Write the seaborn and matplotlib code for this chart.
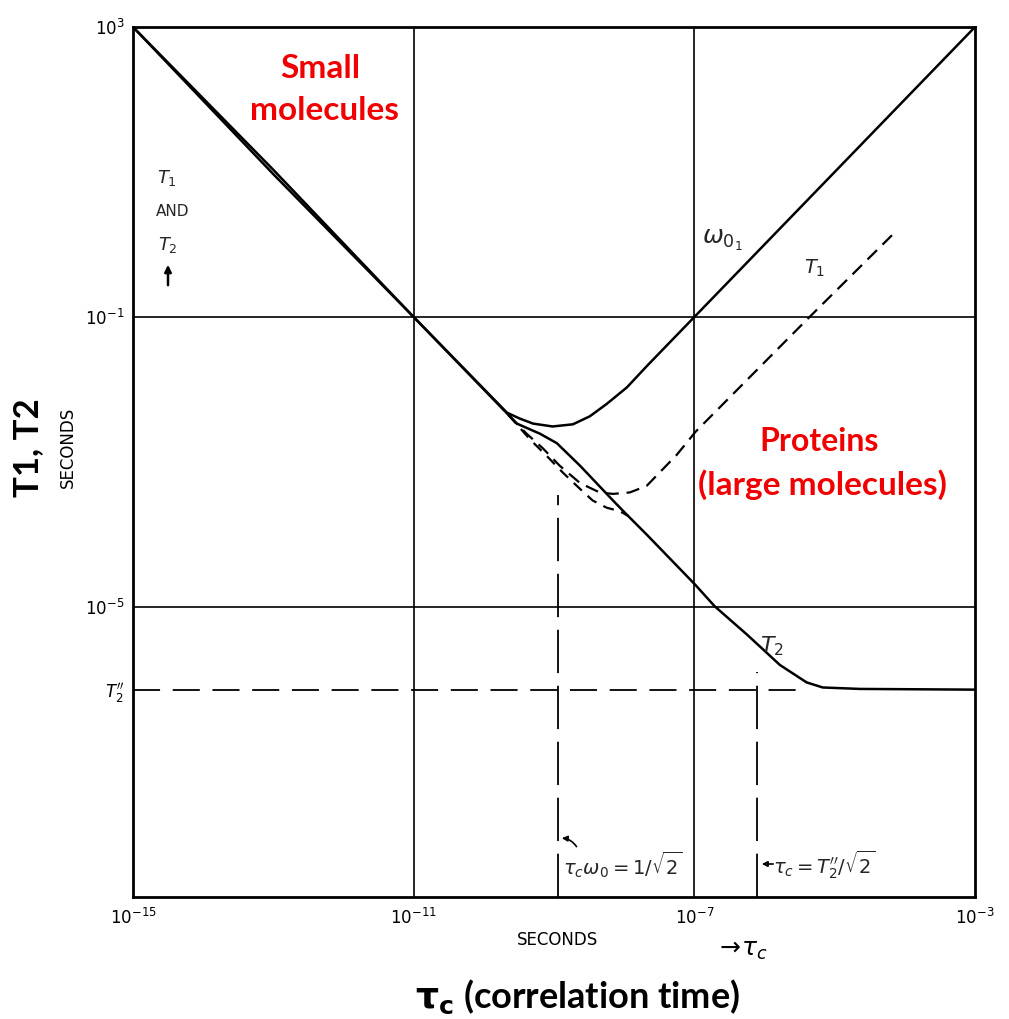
import numpy as np
import pandas as pd
import matplotlib
matplotlib.use("Agg")
import matplotlib.pyplot as plt
import seaborn as sns
from matplotlib.ticker import NullLocator, FixedLocator

# ---------------- data (log10 values) ----------------
# solid T1 curve (omega_01)
t1_solid_logtau = [-15.0, -13.0, -11.0, -9.67, -9.49, -9.30, -9.02, -8.73, -8.49, -8.25, -7.96, -7.68, -7.0, -3.0]
t1_solid_logT = [3.0, 1.03, -1.0, -2.32, -2.40, -2.47, -2.51, -2.48, -2.37, -2.20, -1.97, -1.68, -1.0, 3.0]

# solid T2 curve (omega_01)
t2_solid_logtau = [-15.0, -13.0, -11.0, -9.53, -9.20, -8.96, -8.63, -8.16, -8.02, -7.68, -6.99, -6.71,
                   -6.25, -5.78, -5.40, -5.17, -4.64, -3.0]
t2_solid_logT = [3.0, 0.97, -1.0, -2.47, -2.61, -2.74, -3.05, -3.53, -3.67, -4.00, -4.69, -4.99,
                 -5.38, -5.80, -6.04, -6.11, -6.13, -6.14]

# dashed T1 curve (second frequency)
t1_dash_logtau = [-9.65, -9.39, -9.16, -8.92, -8.63, -8.35, -8.16, -7.92, -7.68, -7.45, -7.25, -6.98, -5.40, -4.15]
t1_dash_logT = [-2.35, -2.61, -2.81, -3.05, -3.29, -3.42, -3.44, -3.42, -3.33, -3.10, -2.90, -2.58, -1.04, 0.16]

# dashed T2 curve (second frequency)
t2_dash_logtau = [-9.65, -9.34, -9.10, -8.87, -8.63, -8.45, -8.25, -8.06, -7.95]
t2_dash_logT = [-2.35, -2.69, -2.92, -3.15, -3.37, -3.53, -3.63, -3.68, -3.74]

# reference lines
t2pp_logT = -6.14                 # T2'' level
t2pp_line_logtau = [-15.0, -5.40]
vline1_logtau = -8.95             # tau_c * omega_0 = 1/sqrt(2)
vline1_logT = [-9.0, -3.46]
vline2_logtau = -6.10             # tau_c = T2''/sqrt(2)
vline2_logT = [-9.0, -5.90]

grid_tau = [1e-11, 1e-7]
grid_T = [1e-1, 1e-5]

xtick_vals = [1e-15, 1e-11, 1e-7, 1e-3]
xtick_labels = [r"$10^{-15}$", r"$10^{-11}$", r"$10^{-7}$", r"$10^{-3}$"]
ytick_vals = [1e3, 1e-1, 1e-5, 10 ** t2pp_logT]
ytick_labels = [r"$10^{3}$", r"$10^{-1}$", r"$10^{-5}$", r"$T_2''$"]

# ---------------- figure ----------------
sns.set_theme(style="white")
plt.rcParams["font.family"] = ["DejaVu Sans"]
plt.rcParams["mathtext.fontset"] = "dejavusans"

W, H = 1009, 1019
fig = plt.figure(figsize=(W / 100, H / 100), dpi=100)
fig.patch.set_facecolor("white")
ax = fig.add_axes([133 / W, 1 - 897 / H, (975 - 133) / W, (897 - 27) / H])
ax.set_facecolor("white")
ax.set_xscale("log")
ax.set_yscale("log")


def frame(lt, lT):
    return pd.DataFrame({"tau": np.power(10.0, lt), "T": np.power(10.0, lT)})


def draw(lt, lT, lw=1.8, dashes=None):
    n0 = len(ax.lines)
    sns.lineplot(data=frame(lt, lT), x="tau", y="T", ax=ax, color="black", lw=lw,
                 sort=False, estimator=None)
    line = ax.lines[n0]
    line.set_solid_joinstyle("round")
    line.set_dash_joinstyle("round")
    if dashes is not None:
        line.set_dashes(dashes)
    return line


# gridlines
for g in grid_tau:
    ax.axvline(g, color="black", lw=1.2, zorder=1)
for g in grid_T:
    ax.axhline(g, color="black", lw=1.2, zorder=1)

draw(t1_solid_logtau, t1_solid_logT)
draw(t2_solid_logtau, t2_solid_logT)
draw(t1_dash_logtau, t1_dash_logT, lw=1.6, dashes=(6, 3.5))
draw(t2_dash_logtau, t2_dash_logT, lw=1.6, dashes=(5, 3.5))

draw(t2pp_line_logtau, [t2pp_logT, t2pp_logT], lw=1.3, dashes=(15, 7))
draw([vline1_logtau, vline1_logtau], vline1_logT, lw=1.3, dashes=(24, 7))
draw([vline2_logtau, vline2_logtau], vline2_logT, lw=1.3, dashes=(24, 7))

ax.set_xlim(1e-15, 1e-3)
ax.set_ylim(1e-9, 1e3)
ax.xaxis.set_major_locator(FixedLocator(xtick_vals))
ax.xaxis.set_minor_locator(NullLocator())
ax.yaxis.set_major_locator(FixedLocator(ytick_vals))
ax.yaxis.set_minor_locator(NullLocator())
ax.set_xticklabels(xtick_labels)
ax.set_yticklabels(ytick_labels)
ax.tick_params(axis="x", length=0, pad=8, labelsize=12, colors="black")
ax.tick_params(axis="y", length=0, pad=6, labelsize=12, colors="black")
ax.set_xlabel("")
ax.set_ylabel("")
ax.grid(False)
for s in ax.spines.values():
    s.set_visible(True)
    s.set_color("black")
    s.set_linewidth(2.0)


def fx(px):
    return px / W


def fy(py):
    return 1 - py / H


red = "#F00000"
bold_font = ["Lato", "DejaVu Sans"]

fig.text(fx(320), fy(68), "Small", color=red, fontsize=24, fontweight="bold",
         family=bold_font, ha="center", va="center")
fig.text(fx(325), fy(110), "molecules", color=red, fontsize=24, fontweight="bold",
         family=bold_font, ha="center", va="center")
fig.text(fx(819), fy(441), "Proteins", color=red, fontsize=23, fontweight="bold",
         family=bold_font, ha="center", va="center")
fig.text(fx(822), fy(485), "(large molecules)", color=red, fontsize=24, fontweight="bold",
         family=bold_font, ha="center", va="center")

fig.text(fx(28), fy(448), "T1, T2", color="black", fontsize=25, fontweight="bold",
         family=bold_font, ha="center", va="center", rotation=90)
fig.text(fx(68), fy(447), "SECONDS", color="black", fontsize=12, ha="center", va="center",
         rotation=90)
fig.text(fx(557), fy(940), "SECONDS", color="black", fontsize=12, ha="center", va="center")
fig.text(fx(742), fy(950), r"$\rightarrow\!\tau_c$", color="black", fontsize=18,
         ha="center", va="center")
fig.text(fx(578), fy(997), r"$\mathbf{\tau_c}$ (correlation time)", color="black", fontsize=26,
         fontweight="bold", family=bold_font, ha="center", va="center")

# in-plot labels
fig.text(fx(167), fy(178), r"$T_1$", fontsize=13, ha="center", va="center")
fig.text(fx(173), fy(211), "AND", fontsize=11, ha="center", va="center")
fig.text(fx(168), fy(245), r"$T_2$", fontsize=13, ha="center", va="center")
ax.annotate("", xy=(fx(168), fy(262)), xytext=(fx(168), fy(288)), xycoords="figure fraction",
            textcoords="figure fraction",
            arrowprops=dict(arrowstyle="-|>", color="black", lw=1.8, mutation_scale=10))
fig.text(fx(722), fy(240), r"$\omega_{0_1}$", fontsize=18, ha="center", va="center")
fig.text(fx(815), fy(268), r"$T_1$", fontsize=14, ha="center", va="center")
fig.text(fx(772), fy(646), r"$T_2$", fontsize=16, ha="center", va="center")

fig.text(fx(623), fy(865), r"$\tau_c\omega_0 = 1/\sqrt{2}$", fontsize=14, ha="center", va="center")
ax.annotate("", xy=(fx(559), fy(838)), xytext=(fx(578), fy(849)), xycoords="figure fraction",
            textcoords="figure fraction",
            arrowprops=dict(arrowstyle="-|>", color="black", lw=1.2, mutation_scale=8,
                            connectionstyle="arc3,rad=0.3"))
fig.text(fx(824), fy(865), r"$\tau_c = T_2''/\sqrt{2}$", fontsize=14, ha="center", va="center")
ax.annotate("", xy=(fx(759), fy(864)), xytext=(fx(776), fy(864)), xycoords="figure fraction",
            textcoords="figure fraction",
            arrowprops=dict(arrowstyle="-|>", color="black", lw=1.2, mutation_scale=8))

fig.savefig("out.png", dpi=100, facecolor="white")
